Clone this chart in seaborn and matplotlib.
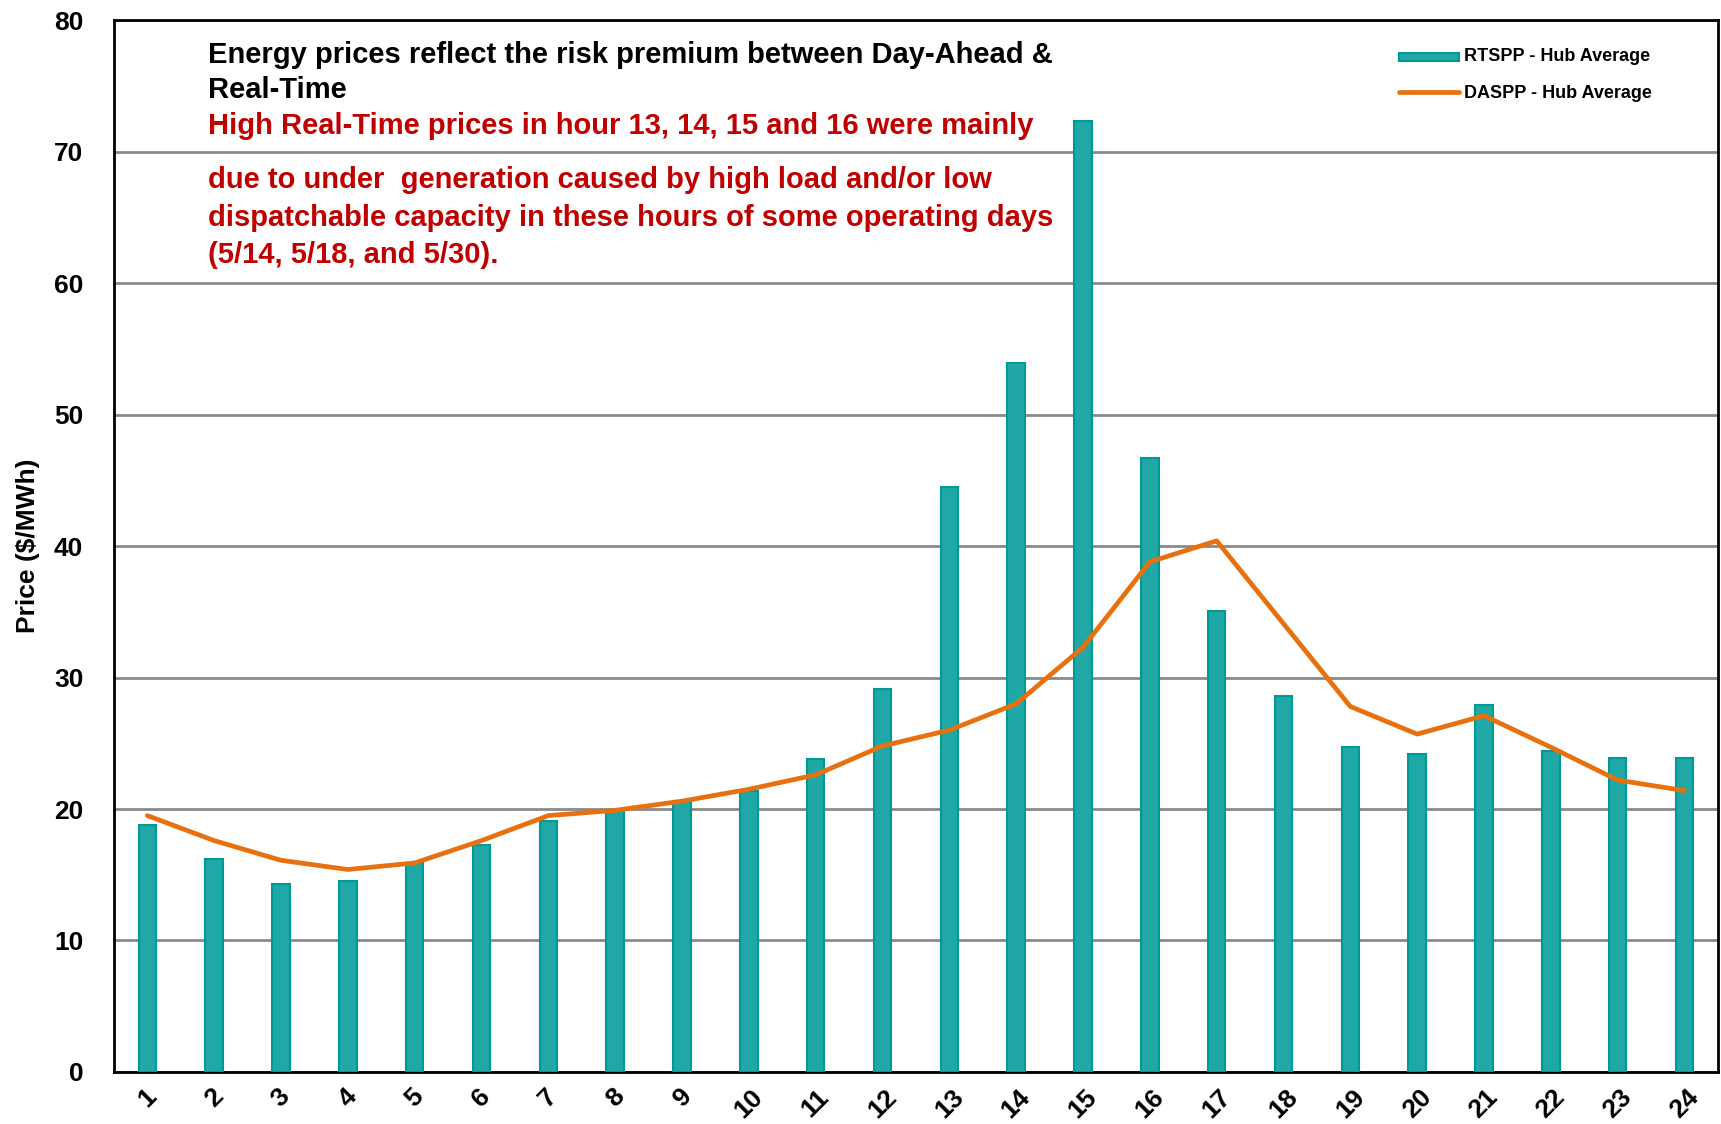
import numpy as np
import pandas as pd
import matplotlib
matplotlib.use('Agg')
import matplotlib.pyplot as plt
import seaborn as sns

hours = [str(h) for h in range(1, 25)]
rtspp = [18.8, 16.2, 14.3, 14.5, 15.9, 17.3, 19.1, 19.9, 20.6, 21.4, 23.8, 29.1,
         44.5, 53.9, 72.3, 46.7, 35.1, 28.6, 24.7, 24.2, 27.9, 24.4, 23.9, 23.9]
daspp = [19.5, 17.6, 16.1, 15.4, 15.9, 17.6, 19.5, 19.9, 20.6, 21.5, 22.6, 24.8,
         26.0, 28.0, 32.3, 38.8, 40.4, 34.1, 27.8, 25.7, 27.1, 24.7, 22.2, 21.4]

title_lines = ['Energy prices reflect the risk premium between Day-Ahead &', 'Real-Time']
note_lines = ['High Real-Time prices in hour 13, 14, 15 and 16 were mainly',
              'due to under  generation caused by high load and/or low',
              'dispatchable capacity in these hours of some operating days',
              '(5/14, 5/18, and 5/30).']

df = pd.DataFrame({'hour': hours, 'rtspp': rtspp, 'daspp': daspp})
df['pos'] = np.arange(len(df))

sns.set_style('white')
plt.rcParams['font.family'] = ['Liberation Sans', 'DejaVu Sans']
plt.rcParams['font.weight'] = 'bold'
plt.rcParams['text.color'] = 'black'
plt.rcParams['xtick.color'] = 'black'
plt.rcParams['ytick.color'] = 'black'
plt.rcParams['axes.labelcolor'] = 'black'

fig = plt.figure(figsize=(17.21, 11.24), dpi=100)
ax = fig.add_axes([0.0662, 0.0463, 0.932, 0.9357])

teal = '#1fa8a5'
orange = '#e8700f'

sns.barplot(data=df, x='hour', y='rtspp', color=teal, width=0.26,
            saturation=1, edgecolor='#009a96', linewidth=1.5, ax=ax,
            label='RTSPP - Hub Average', zorder=3)
sns.lineplot(data=df, x='pos', y='daspp', color=orange, linewidth=3.4,
             ax=ax, label='DASPP - Hub Average', zorder=4)

ax.set_xlim(-0.5, 23.5)
ax.set_ylim(0, 80)
ax.set_yticks(range(0, 81, 10))
ax.yaxis.grid(True, color='#8a8a8a', linewidth=2, zorder=0)
ax.set_axisbelow(True)
for s in ax.spines.values():
    s.set_color('black')
    s.set_linewidth(2)

ax.set_xticks(np.arange(24))
ax.set_xticklabels(hours, rotation=45, fontsize=19, fontweight='bold')
ax.set_xticks(np.arange(-0.5, 24, 1), minor=True)
ax.tick_params(axis='x', which='major', length=0, pad=9)
ax.tick_params(axis='x', which='minor', length=8, width=1.5, color='black', direction='out')
ax.tick_params(axis='y', length=8, width=1.5, color='black', labelsize=19, pad=14)
for lab in ax.get_yticklabels():
    lab.set_fontweight('bold')

ax.set_xlabel('')
ax.set_ylabel('Price ($/MWh)', fontsize=19, fontweight='bold', labelpad=10)

handles, labels = ax.get_legend_handles_labels()
order = [labels.index('RTSPP - Hub Average'), labels.index('DASPP - Hub Average')]
leg = ax.legend([handles[i] for i in order], [labels[i] for i in order],
                loc='upper right', bbox_to_anchor=(0.969, 0.989), frameon=False,
                fontsize=13, handlelength=3.3, handletextpad=0.3, labelspacing=1.1)
for t in leg.get_texts():
    t.set_fontweight('bold')
for h in leg.legend_handles:
    if hasattr(h, 'set_height'):
        h.set_height(6)

x0 = 0.121
for txt, yy in zip(title_lines, [0.9512, 0.920]):
    fig.text(x0, yy, txt, fontsize=21, fontweight='bold', color='black', va='center')
for txt, yy in zip(note_lines, [0.888, 0.840, 0.8057, 0.7735]):
    fig.text(x0, yy, txt, fontsize=21, fontweight='bold', color='#c00000', va='center')

fig.savefig('out.png', dpi=100)
